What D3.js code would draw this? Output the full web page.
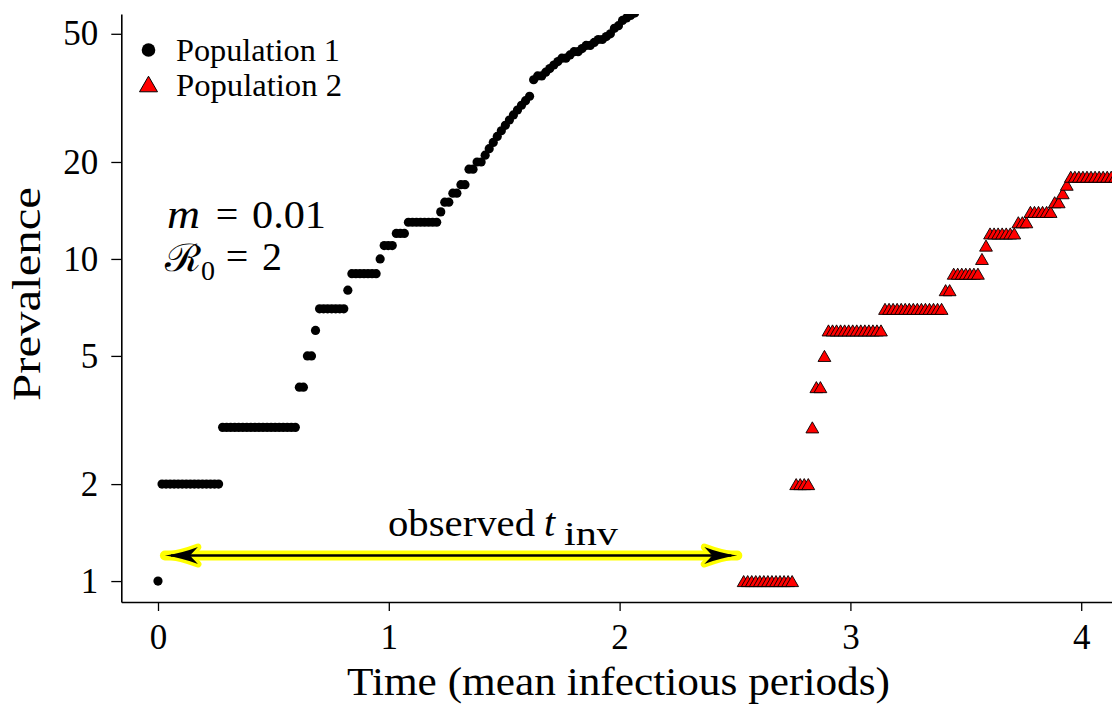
<!DOCTYPE html>
<html>
<head>
<meta charset="utf-8">
<script src="https://cdn.jsdelivr.net/npm/d3@7"></script>
<style>
  html, body { margin: 0; padding: 0; background: #fff; }
  svg { display: block; }
  svg text { font-family: "Liberation Serif", "Times New Roman", serif; }
</style>
</head>
<body>
<svg id="chart" width="1112" height="707"></svg>
<script>
// Recorded prevalence, one value per sample; samples are sampleStep apart in time.
const sampleStep = 0.0175;           // mean infectious periods between samples
const pop1FirstSample = 0;
const pop1Prevalence = [
  1,
  2, 2, 2, 2, 2, 2, 2, 2, 2, 2, 2, 2, 2, 2, 2,
  3, 3, 3, 3, 3, 3, 3, 3, 3, 3, 3, 3, 3, 3, 3, 3, 3, 3, 3,
  4, 4, 5, 5, 6,
  7, 7, 7, 7, 7, 7, 7,
  8,
  9, 9, 9, 9, 9, 9, 9,
  10, 11, 11, 11, 12, 12, 12,
  13, 13, 13, 13, 13, 13, 13, 13,
  14, 15, 15, 16, 16, 17, 17, 19, 19, 20, 20,
  21, 22, 23, 24, 25, 26, 27, 28, 29, 30, 31, 32,
  36, 37, 37, 38, 39, 40, 41, 42, 42, 43, 44, 44, 45, 46, 46, 47,
  48, 48, 49, 50, 52, 53, 55, 56, 57, 58, 60
];
const pop2FirstSample = 145;
const pop2Prevalence = [
  1, 1, 1, 1, 1, 1, 1, 1, 1, 1, 1, 1, 1,
  2, 2, 2, 2,
  3, 4, 4, 5,
  6, 6, 6, 6, 6, 6, 6, 6, 6, 6, 6, 6, 6, 6,
  7, 7, 7, 7, 7, 7, 7, 7, 7, 7, 7, 7, 7, 7, 7,
  8, 8,
  9, 9, 9, 9, 9, 9, 9,
  10, 11,
  12, 12, 12, 12, 12, 12, 12,
  13, 13, 13,
  14, 14, 14, 14, 14, 14,
  15, 15, 16, 17,
  18, 18, 18, 18, 18, 18, 18, 18, 18, 18, 18, 18
];
const seriesNames = ["Population 1", "Population 2"];
const xTicks = [0, 1, 2, 3, 4];
const yTicks = [1, 2, 5, 10, 20, 50];
// Observed invasion interval, drawn as a double arrow
const invasionSpan = [0.03, 2.51];
const invasionLevel = 1.2;

const SERIF = "Liberation Serif, Times New Roman, serif";
const svg = d3.select("#chart");

const x = d3.scaleLinear().domain([-0.159, 4.1334]).range([121.3, 1112]);
const y = d3.scaleLog().domain([0.861, 57.6]).range([602, 14]);

const pop1 = pop1Prevalence.map((v, k) => ({ t: (pop1FirstSample + k) * sampleStep, v }));
const pop2 = pop2Prevalence.map((v, k) => ({ t: (pop2FirstSample + k) * sampleStep, v }));

// clip region for the plotting area
svg.append("defs").append("clipPath").attr("id", "plotClip")
  .append("rect")
  .attr("x", x.range()[0]).attr("y", y.range()[1])
  .attr("width", x.range()[1] - x.range()[0])
  .attr("height", y.range()[0] - y.range()[1]);

const tri = (cx, cy, w) => {
  const h = w * 0.866;
  return `M${cx},${cy - h / 2}L${cx + w / 2},${cy + h / 2}L${cx - w / 2},${cy + h / 2}Z`;
};

// ---- axes ----
const yAxis = svg.append("g")
  .attr("transform", `translate(${x.range()[0]},0)`)
  .call(d3.axisLeft(y).tickValues(yTicks).tickFormat(d3.format("d"))
    .tickSize(10).tickSizeOuter(0).tickPadding(13));
const xAxis = svg.append("g")
  .attr("transform", `translate(0,${y.range()[0]})`)
  .call(d3.axisBottom(x).tickValues(xTicks).tickFormat(d3.format("d"))
    .tickSize(9).tickSizeOuter(0).tickPadding(13));
[yAxis, xAxis].forEach(g => {
  g.attr("font-family", SERIF).attr("font-size", 35);
  g.select(".domain").attr("stroke", "#000").attr("stroke-width", 1.6);
  g.selectAll(".tick line").attr("stroke", "#000").attr("stroke-width", 1.3);
  g.selectAll(".tick text").attr("fill", "#000");
});

// axis titles
svg.append("text")
  .attr("x", 618.5).attr("y", 695)
  .attr("text-anchor", "middle")
  .attr("textLength", 543).attr("lengthAdjust", "spacingAndGlyphs")
  .attr("font-size", 41)
  .text("Time (mean infectious periods)");
svg.append("text")
  .attr("transform", "translate(40,294) rotate(-90)")
  .attr("text-anchor", "middle")
  .attr("textLength", 214).attr("lengthAdjust", "spacingAndGlyphs")
  .attr("font-size", 41)
  .text("Prevalence");

// ---- markers ----
const plot = svg.append("g").attr("clip-path", "url(#plotClip)");
plot.append("g").selectAll("circle").data(pop1).join("circle")
  .attr("cx", d => x(d.t)).attr("cy", d => y(d.v)).attr("r", 4.6)
  .attr("fill", "#000");
plot.append("g").selectAll("path").data(pop2).join("path")
  .attr("d", d => tri(x(d.t), y(d.v), 12.8))
  .attr("fill", "#ff0000").attr("stroke", "#000").attr("stroke-width", 0.9);

// ---- invasion-time arrow ----
const ax0 = x(invasionSpan[0]), ax1 = x(invasionSpan[1]), ay = y(invasionLevel);
function headPath(tipX, dir) {
  // curved, swept-back arrowhead pointing in direction dir (-1 left, +1 right)
  const L = 33, B = 8.5, N = 25;
  const bx = tipX - dir * L, nx = tipX - dir * N;
  return `M${tipX},${ay}` +
    `Q${tipX - dir * 16},${ay - 2} ${bx},${ay - B}` +
    `Q${tipX - dir * 27},${ay - 2} ${nx},${ay}` +
    `Q${tipX - dir * 27},${ay + 2} ${bx},${ay + B}` +
    `Q${tipX - dir * 16},${ay + 2} ${tipX},${ay}Z`;
}
const arrow = svg.append("g");
// yellow halo
arrow.append("line").attr("x1", ax0).attr("x2", ax1).attr("y1", ay).attr("y2", ay)
  .attr("stroke", "#ffff00").attr("stroke-width", 10).attr("stroke-linecap", "round");
[[ax0, -1], [ax1, 1]].forEach(([tx, dir]) => {
  arrow.append("path").attr("d", headPath(tx, dir))
    .attr("fill", "#ffff00").attr("stroke", "#ffff00")
    .attr("stroke-width", 7).attr("stroke-linejoin", "round");
});
// black arrow
arrow.append("line").attr("x1", ax0 + 6).attr("x2", ax1 - 6).attr("y1", ay).attr("y2", ay)
  .attr("stroke", "#000").attr("stroke-width", 2.6);
[[ax0, -1], [ax1, 1]].forEach(([tx, dir]) => {
  arrow.append("path").attr("d", headPath(tx, dir)).attr("fill", "#000");
});

// label over the arrow
const obs = svg.append("text").attr("y", 536).attr("font-size", 38);
obs.append("tspan").attr("x", 388).attr("textLength", 147).attr("lengthAdjust", "spacingAndGlyphs")
  .text("observed");
obs.append("tspan").attr("x", 544).attr("font-style", "italic").attr("font-size", 40).text("t");
obs.append("tspan").attr("x", 564).attr("y", 545).attr("font-size", 33)
  .attr("textLength", 54).attr("lengthAdjust", "spacingAndGlyphs").text("inv");

// ---- parameter annotation ----
const ann = svg.append("g").attr("font-size", 40).attr("font-family", SERIF);
ann.append("text").attr("x", 167).attr("y", 228).attr("font-style", "italic")
  .attr("textLength", 33).attr("lengthAdjust", "spacingAndGlyphs").text("m");
ann.append("text").attr("x", 227).attr("y", 228).attr("text-anchor", "middle").text("=");
ann.append("text").attr("x", 252).attr("y", 228)
  .attr("textLength", 74).attr("lengthAdjust", "spacingAndGlyphs").text("0.01");
ann.append("text").attr("x", 165).attr("y", 271)
  .attr("font-size", 38)
  .attr("textLength", 36).attr("lengthAdjust", "spacingAndGlyphs")
  .text("\u211B");
ann.append("text").attr("x", 201).attr("y", 280).attr("font-size", 28).text("0");
ann.append("text").attr("x", 237).attr("y", 270).attr("text-anchor", "middle").text("=");
ann.append("text").attr("x", 262).attr("y", 270).text("2");

// ---- legend ----
const legend = svg.append("g").attr("font-size", 31).attr("font-family", SERIF);
legend.append("circle").attr("cx", 148.5).attr("cy", 50).attr("r", 6.8).attr("fill", "#000");
legend.append("path").attr("d", tri(148.5, 84, 18))
  .attr("fill", "#ff0000").attr("stroke", "#000").attr("stroke-width", 1);
legend.append("text").attr("x", 176).attr("y", 61)
  .attr("textLength", 164).attr("lengthAdjust", "spacingAndGlyphs").text(seriesNames[0]);
legend.append("text").attr("x", 176).attr("y", 96)
  .attr("textLength", 166).attr("lengthAdjust", "spacingAndGlyphs").text(seriesNames[1]);
</script>
</body>
</html>
